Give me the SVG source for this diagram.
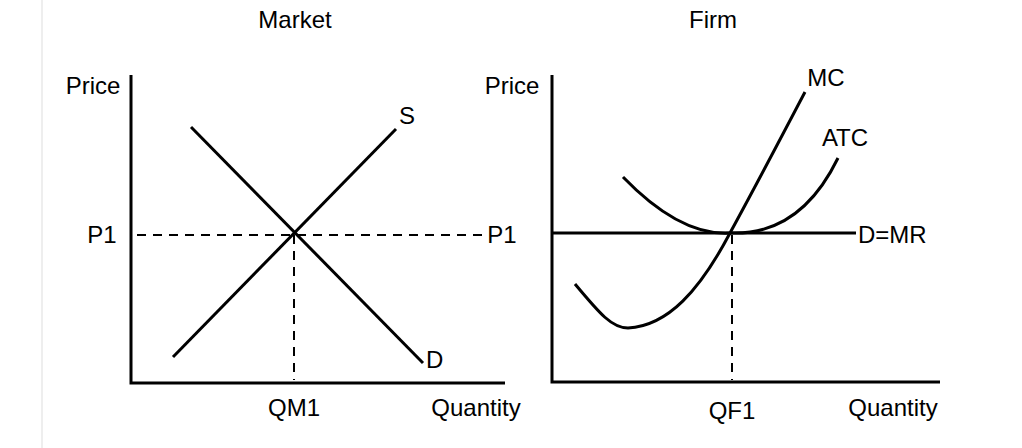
<svg xmlns="http://www.w3.org/2000/svg" width="1022" height="448" viewBox="0 0 1022 448">
<style>
text{font-family:"Liberation Sans",Arial,sans-serif;font-size:24px;fill:#000}
.l{stroke:#000;stroke-width:3;fill:none}
.d{stroke:#000;stroke-width:2;fill:none;stroke-dasharray:9,7}
</style>
<rect width="1022" height="448" fill="#fff"/>
<line x1="42" y1="0" x2="42" y2="448" stroke="#ddd" stroke-width="1"/>
<g id="market">
<text x="295" y="28" text-anchor="middle">Market</text>
<text x="93" y="94" text-anchor="middle">Price</text>
<path class="l" d="M131 75V383H505"/>
<line class="d" x1="137" y1="235" x2="487" y2="235"/>
<line class="d" x1="294" y1="235" x2="294" y2="380"/>
<line class="l" x1="173" y1="357" x2="396" y2="129"/>
<line class="l" x1="191" y1="127" x2="423" y2="363"/>
<text x="407" y="124" text-anchor="middle">S</text>
<text x="426" y="368">D</text>
<text x="102" y="243" text-anchor="middle">P1</text>
<text x="502" y="243" text-anchor="middle">P1</text>
<text x="294" y="416" text-anchor="middle">QM1</text>
<text x="476" y="416" text-anchor="middle">Quantity</text>
</g>
<g id="firm">
<text x="713" y="28" text-anchor="middle">Firm</text>
<text x="512" y="94" text-anchor="middle">Price</text>
<path class="l" d="M552 75V382H940"/>
<line class="l" x1="552" y1="233" x2="856" y2="233"/>
<line class="d" x1="732" y1="235" x2="732" y2="380"/>
<path class="l" d="M575 284C600 314 612 328 628 328C668 326 700 290 730 233C760 178 785 130 805 92"/>
<path class="l" d="M623 177Q680 236 730 233Q800 236 838 158"/>
<text x="826" y="86" text-anchor="middle">MC</text>
<text x="845" y="146" text-anchor="middle">ATC</text>
<text x="858" y="243">D=MR</text>
<text x="732" y="419" text-anchor="middle">QF1</text>
<text x="893" y="416" text-anchor="middle">Quantity</text>
</g>
</svg>
